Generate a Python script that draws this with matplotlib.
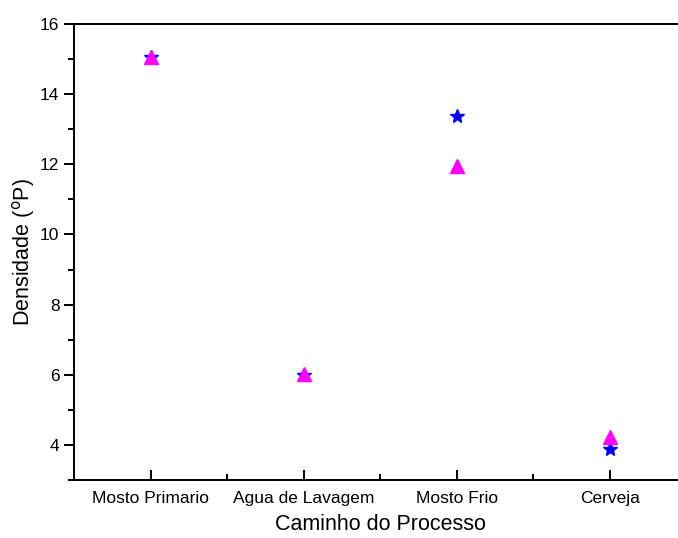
import numpy as np
import matplotlib.pyplot as plt
from matplotlib.ticker import MultipleLocator

plt.rcParams['font.family'] = ['Liberation Sans', 'DejaVu Sans']

# dados
etapas = ['Mosto Primario', 'Agua de Lavagem', 'Mosto Frio', 'Cerveja']
serie_estrela = [15.05, 6.0, 13.38, 3.88]
serie_triangulo = [15.05, 6.02, 11.95, 4.23]

fig = plt.figure(figsize=(6.78, 5.38), dpi=100)
# eixo passa da borda direita como no original
ax = fig.add_axes([74 / 678, 1 - 480 / 538, (686.5 - 74) / 678, (480 - 24) / 538])

x = np.arange(1, len(etapas) + 1)
ax.plot(x, serie_estrela, linestyle='none', marker='*', color='blue', markersize=10)
ax.plot(x, serie_triangulo, linestyle='none', marker='^', color='magenta', markersize=10)

ax.set_xlim(0.5, 4.5)
ax.set_ylim(3, 16)
ax.set_xticks(x)
ax.set_xticklabels(etapas)
ax.xaxis.set_minor_locator(MultipleLocator(1, offset=0.5))
ax.yaxis.set_major_locator(MultipleLocator(2))
ax.yaxis.set_minor_locator(MultipleLocator(1))

for s in ax.spines.values():
    s.set_linewidth(1.4)
ax.spines['right'].set_visible(False)

ax.tick_params(axis='y', which='major', direction='out', length=7, width=1.4, labelsize=12.5)
ax.tick_params(axis='y', which='minor', direction='out', length=4, width=1.4)
ax.tick_params(axis='x', which='major', direction='in', length=7, width=1.4, labelsize=12.5, pad=8)
ax.tick_params(axis='x', which='minor', direction='in', length=4, width=1.4)

ax.set_xlabel('Caminho do Processo', fontsize=15.5, labelpad=6)
ax.set_ylabel('Densidade ($^{\\rm o}$P)', fontsize=15.5, labelpad=2)

fig.savefig('out.png', dpi=100)
